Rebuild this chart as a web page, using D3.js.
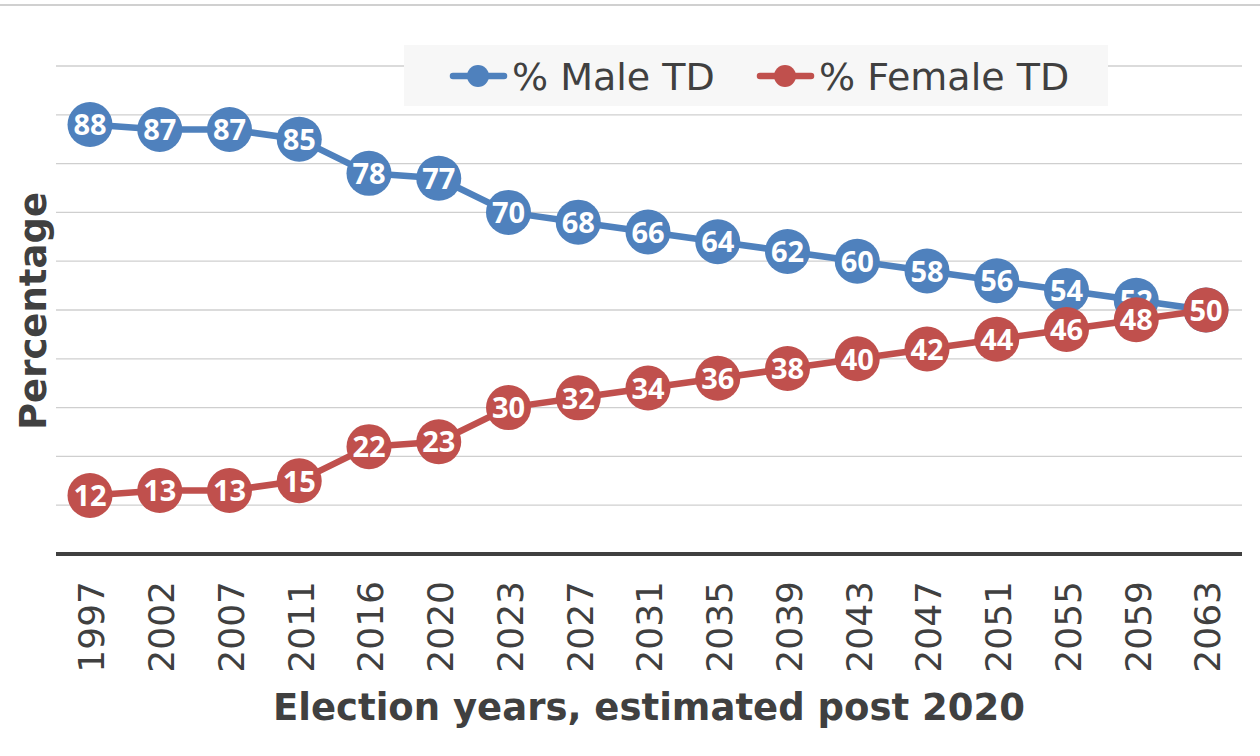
<!DOCTYPE html>
<html>
<head>
<meta charset="utf-8">
<script src="https://cdn.jsdelivr.net/npm/d3@7"></script>
<style>
  body { margin: 0; background: #fff; }
  svg { display: block; font-family: "DejaVu Sans", Verdana, sans-serif; }
</style>
</head>
<body>
<svg id="chart" width="1260" height="756"></svg>
<script>
const years = ['1997', '2002', '2007', '2011', '2016', '2020', '2023', '2027', '2031',
               '2035', '2039', '2043', '2047', '2051', '2055', '2059', '2063'];
const maleValues = [88, 87, 87, 85, 78, 77, 70, 68, 66, 64, 62, 60, 58, 56, 54, 52, 50];
const femaleValues = [12, 13, 13, 15, 22, 23, 30, 32, 34, 36, 38, 40, 42, 44, 46, 48, 50];
const seriesNames = ['% Male TD', '% Female TD'];
const gridTicks = [10, 20, 30, 40, 50, 60, 70, 80, 90, 100];

const svg = d3.select('#chart');
const W = 1260;
const plot = { left: 56, right: 1242, top: 66, bottom: 554 };

// outer border line at the top
svg.append('line')
    .attr('x1', 0).attr('x2', W)
    .attr('y1', 5).attr('y2', 5)
    .attr('stroke', '#d0d0d0')
    .attr('stroke-width', 2);

const x = d3.scalePoint()
    .domain(years)
    .range([90, 1206]);

const y = d3.scaleLinear()
    .domain([0, 100])
    .range([plot.bottom, plot.top]);

// gridlines
svg.append('g')
    .selectAll('line')
    .data(gridTicks)
    .enter()
    .append('line')
    .attr('x1', plot.left).attr('x2', plot.right)
    .attr('y1', d => y(d)).attr('y2', d => y(d))
    .attr('stroke', '#cfcfcf')
    .attr('stroke-width', 1.3);

// x axis
const xAxis = svg.append('g')
    .attr('transform', `translate(0,${plot.bottom})`)
    .call(d3.axisBottom(x).tickSize(0).tickPadding(0));
xAxis.select('.domain').remove();
xAxis.append('line')
    .attr('x1', plot.left).attr('x2', plot.right)
    .attr('stroke', '#404040')
    .attr('stroke-width', 4);
xAxis.selectAll('text')
    .attr('transform', 'rotate(-90)')
    .attr('x', -27)
    .attr('y', 1)
    .attr('dy', '0.36em')
    .attr('text-anchor', 'end')
    .attr('fill', '#404040')
    .style('font-family', '"DejaVu Sans", sans-serif')
    .style('font-size', '36px');

// axis titles
svg.append('text')
    .attr('x', 649)
    .attr('y', 720)
    .attr('text-anchor', 'middle')
    .attr('fill', '#404040')
    .style('font-weight', 'bold')
    .style('font-size', '37px')
    .text('Election years, estimated post 2020');

svg.append('text')
    .attr('transform', 'translate(46,311) rotate(-90)')
    .attr('text-anchor', 'middle')
    .attr('fill', '#404040')
    .style('font-weight', 'bold')
    .style('font-size', '37px')
    .text('Percentage');

// series
const series = [
    { name: seriesNames[0], values: maleValues, color: '#4f81bd' },
    { name: seriesNames[1], values: femaleValues, color: '#c0504d' }
];

const line = d3.line()
    .x((d, i) => x(years[i]))
    .y(d => y(d));

series.forEach(s => {
    const g = svg.append('g');
    g.append('path')
        .datum(s.values)
        .attr('d', line)
        .attr('fill', 'none')
        .attr('stroke', s.color)
        .attr('stroke-width', 6.5)
        .attr('stroke-linejoin', 'round');

    g.selectAll('circle')
        .data(s.values)
        .enter()
        .append('circle')
        .attr('cx', (d, i) => x(years[i]))
        .attr('cy', d => y(d))
        .attr('r', 22.5)
        .attr('fill', s.color);

    g.selectAll('text')
        .data(s.values)
        .enter()
        .append('text')
        .attr('x', (d, i) => x(years[i]))
        .attr('y', d => y(d))
        .attr('dy', '0.37em')
        .attr('text-anchor', 'middle')
        .attr('fill', '#fff')
        .style('font-family', '"Open Sans", sans-serif')
        .style('font-weight', 'bold')
        .style('font-size', '29px')
        .text(d => d);
});

// legend
const legend = svg.append('g');
legend.append('rect')
    .attr('x', 404).attr('y', 45)
    .attr('width', 704).attr('height', 61)
    .attr('fill', '#f7f7f7');

const legendX = [450, 757];
series.forEach((s, i) => {
    const lg = legend.append('g')
        .attr('transform', `translate(${legendX[i]},76)`);
    lg.append('line')
        .attr('x1', 3).attr('x2', 54)
        .attr('stroke', s.color)
        .attr('stroke-width', 6.5)
        .attr('stroke-linecap', 'round');
    lg.append('circle')
        .attr('cx', 28).attr('r', 11)
        .attr('fill', s.color);
    lg.append('text')
        .attr('x', 62)
        .attr('dy', '0.36em')
        .attr('fill', '#404040')
        .style('font-size', '38px')
        .text(s.name);
});
</script>
</body>
</html>
